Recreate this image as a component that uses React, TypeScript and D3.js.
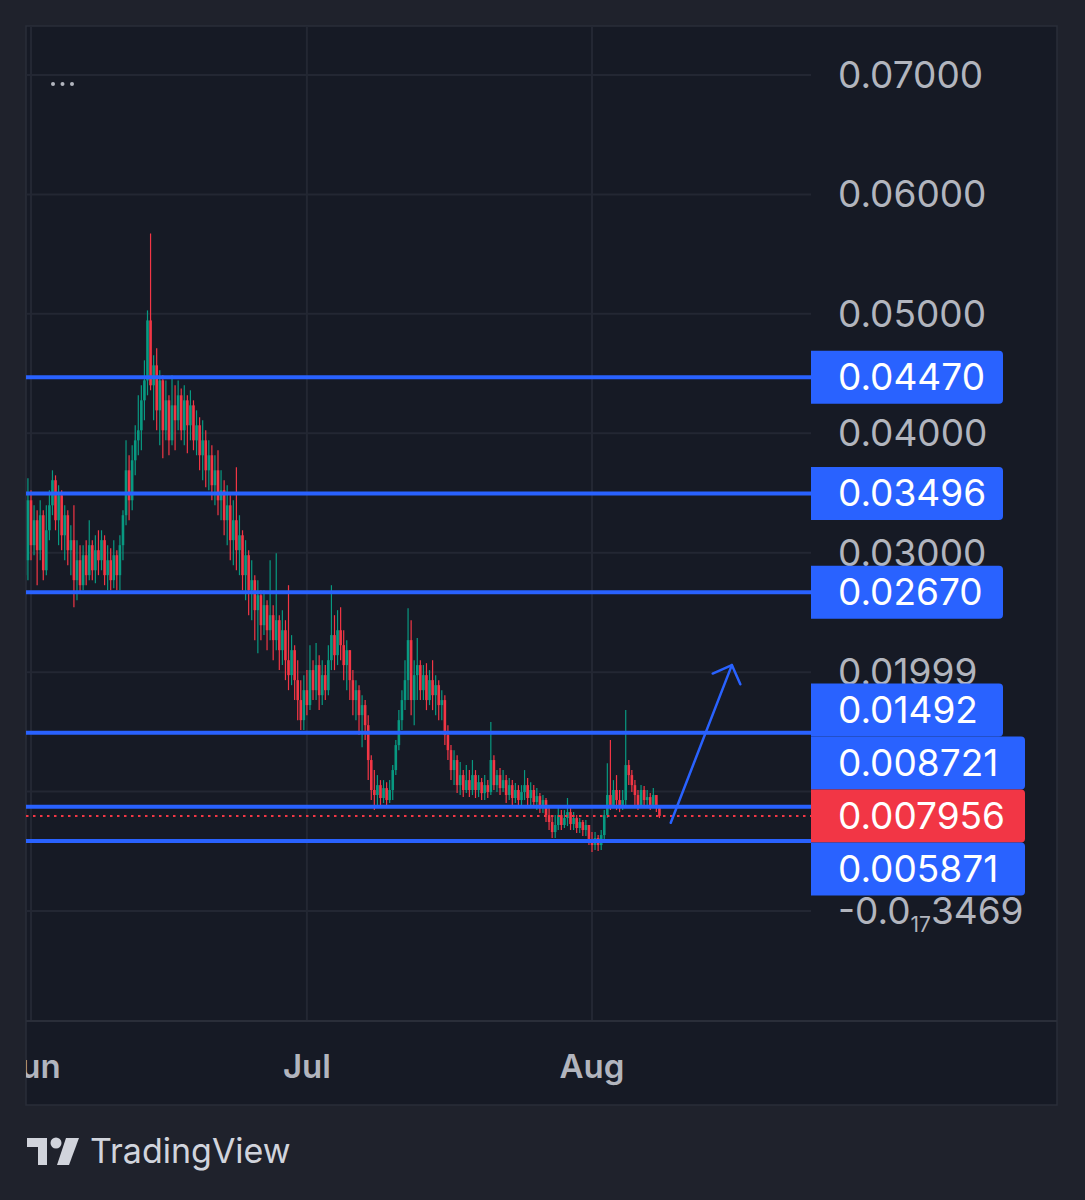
import React from "react";
import * as d3 from "d3";

// horizontal levels drawn on the chart
const levels = [0.0447, 0.03496, 0.0267, 0.01492, 0.008721, 0.005871];
const levelLabels = ["0.04470", "0.03496", "0.02670", "0.01492", "0.008721", "0.005871"];
const lastPrice = 0.007956;
const lastLabel = "0.007956";

// price axis
const priceTicks = [0, 0.01, 0.02, 0.03, 0.04, 0.05, 0.06, 0.07];
const priceTickLabels = ["-0.0{17}3469", "0.01000", "0.01999", "0.03000", "0.04000", "0.05000", "0.06000", "0.07000"];

// time axis
const monthTicks = [new Date(2024, 5, 1), new Date(2024, 6, 1), new Date(2024, 7, 1)];
const monthLabels = ["Jun", "Jul", "Aug"];

// 8h candles, prices in 1e-5
const candleStart = new Date(2024, 4, 31, 8);
const candleHours = 8;
const firstOpenE5 = 2812;
const closeE5 = [
  2937, 3439, 3063, 3272, 3021, 3314, 2853, 3188, 3397, 3607,
  3272, 3481, 3146, 3314, 3021, 3105, 2770, 2937, 2728, 2979,
  2812, 3063, 2853, 3021, 2937, 3105, 2812, 2937, 2770, 2979,
  2812, 3063, 3314, 3690, 3439, 3774, 3941, 4025, 4276, 4443,
  4945, 4402, 4569, 4192, 4443, 4025, 4276, 3941, 4234, 4109,
  4318, 4025, 4276, 4067, 4234, 3941, 4067, 3816, 3941, 3690,
  3816, 3565, 3690, 3439, 3523, 3272, 3397, 3105, 3272, 3021,
  3146, 2812, 2979, 2686, 2770, 2519, 2644, 2393, 2561, 2351,
  2477, 2268, 2435, 2184, 2351, 2100, 1975, 2184, 1933, 1766,
  1598, 1849, 1724, 2017, 1849, 2059, 1807, 1975, 1849, 2100,
  2310, 2142, 2351, 2226, 2059, 2184, 1933, 1766, 1849, 1640,
  1724, 1556, 1264, 1013, 971, 1054, 946, 1029, 929, 1013,
  1180, 1389, 1598, 1766, 1933, 2268, 1766, 1975, 2059, 1849,
  1975, 1766, 1933, 1807, 1891, 1724, 1766, 1473, 1347, 1180,
  1264, 1054, 1138, 1013, 1096, 1013, 1138, 1013, 1079, 987,
  1054, 996, 1264, 1054, 1138, 1029, 1096, 971, 1054, 946,
  1013, 929, 996, 1054, 946, 1013, 912, 962, 862, 929,
  803, 745, 661, 720, 803, 720, 778, 828, 728, 778,
  695, 745, 678, 720, 594, 552, 611, 552, 636, 803,
  971, 887, 1013, 929, 862, 929, 1222, 1138, 1054, 971,
  887, 1013, 929, 954, 887, 971, 862, 796,
];
const highE5 = [
  3105, 3623, 3523, 3397, 3356, 3439, 3356, 3397, 3523, 3690,
  3648, 3565, 3523, 3397, 3356, 3230, 3397, 3105, 3063, 3063,
  3105, 3272, 3105, 3146, 3188, 3188, 3146, 3063, 3038, 3105,
  3021, 3146, 3356, 3941, 3816, 3899, 4067, 4318, 4402, 4611,
  5029, 5673, 4653, 4711, 4527, 4485, 4443, 4318, 4485, 4402,
  4443, 4376, 4402, 4318, 4360, 4276, 4192, 4134, 4109, 4025,
  3941, 3899, 3816, 3858, 3690, 3607, 3565, 3481, 3439, 3715,
  3314, 3188, 3105, 3021, 2937, 2812, 2770, 2686, 2686, 2602,
  2937, 2561, 2996, 2477, 2519, 2435, 2728, 2310, 2226, 2100,
  1933, 1975, 2017, 2226, 2100, 2243, 2142, 2100, 2059, 2226,
  2728, 2477, 2519, 2544, 2351, 2268, 2184, 2017, 1933, 1891,
  1807, 1766, 1640, 1305, 1180, 1138, 1096, 1096, 1079, 1096,
  1222, 1431, 1682, 1849, 2100, 2535, 2435, 2100, 2285, 2100,
  2059, 2075, 2017, 2100, 1975, 1933, 1849, 1807, 1556, 1389,
  1347, 1305, 1247, 1180, 1222, 1180, 1264, 1180, 1138, 1113,
  1138, 1096, 1582, 1305, 1180, 1197, 1180, 1138, 1113, 1096,
  1071, 1054, 1054, 1180, 1113, 1079, 1054, 1029, 987, 971,
  946, 862, 803, 803, 862, 845, 845, 946, 879, 828,
  803, 778, 761, 761, 720, 661, 661, 636, 678, 845,
  1238, 1431, 1096, 1138, 1013, 1013, 1682, 1264, 1180, 1096,
  1013, 1054, 1046, 1013, 987, 1029, 971, 887,
];
const lowE5 = [
  2728, 2770, 2937, 2979, 2728, 2937, 2770, 2812, 3105, 3314,
  3188, 3063, 3021, 2937, 2895, 2812, 2544, 2602, 2669, 2686,
  2728, 2770, 2770, 2745, 2812, 2853, 2728, 2686, 2686, 2703,
  2686, 2686, 2937, 3230, 3272, 3356, 3648, 3816, 3858, 4109,
  4318, 4360, 4109, 4025, 3899, 3791, 3941, 3816, 3899, 3858,
  4025, 3941, 3899, 3833, 3941, 3858, 3816, 3690, 3607, 3548,
  3523, 3439, 3397, 3314, 3272, 3146, 3063, 2937, 2895, 2853,
  2812, 2686, 2602, 2477, 2435, 2268, 2159, 2268, 2310, 2184,
  2268, 2100, 2184, 2017, 2059, 1933, 1849, 1891, 1766, 1598,
  1515, 1515, 1640, 1682, 1766, 1766, 1682, 1724, 1766, 1807,
  2017, 2017, 2059, 2100, 1933, 1849, 1766, 1640, 1598, 1473,
  1372, 1431, 1096, 929, 845, 887, 887, 904, 879, 904,
  929, 1138, 1347, 1515, 1682, 1766, 1640, 1556, 1766, 1766,
  1766, 1682, 1724, 1682, 1640, 1598, 1598, 1389, 1264, 1096,
  1054, 987, 971, 954, 987, 954, 971, 946, 954, 929,
  929, 946, 971, 1013, 996, 971, 996, 904, 929, 887,
  904, 879, 887, 929, 887, 887, 862, 845, 820, 820,
  745, 678, 611, 611, 678, 678, 695, 711, 678, 678,
  653, 653, 628, 628, 552, 494, 510, 502, 510, 594,
  778, 845, 862, 845, 828, 845, 887, 1054, 996, 887,
  845, 862, 879, 862, 845, 862, 828, 778,
];

// drawn arrow (time, price)
const arrowFrom = { t: new Date(2024, 7, 9, 13, 30), v: 0.00739 };
const arrowTo = { t: new Date(2024, 7, 16, 5), v: 0.02059 };

const W = 1085;
const H = 1200;
const panelL = 26, panelT = 26, panelR = 1057, panelB = 1105;
const plotR = 811, plotB = 1021;
const bg = "#1f222c";
const panelBg = "#161a25";
const gridColor = "#232733";
const textColor = "#b2b5be";
const blue = "#2962ff";
const red = "#f23645";
const up = "#089981";
const font = "Inter, Roboto, 'Noto Sans', sans-serif";

const x = d3.scaleTime().domain([monthTicks[0], monthTicks[2]]).range([31, 592]);
const y = d3.scaleLinear().domain([0, 0.07]).range([911, 75]);

const candles = closeE5.map((c, i) => {
  const o = (i === 0 ? firstOpenE5 : closeE5[i - 1]) * 1e-5;
  const cl = c * 1e-5;
  return {
    t: d3.timeHour.offset(candleStart, i * candleHours),
    o,
    c: cl,
    h: Math.max(highE5[i] * 1e-5, o, cl),
    l: Math.min(lowE5[i] * 1e-5, o, cl),
  };
});

function renderTickLabel(label: string, ty: number, key: number) {
  const m = label.match(/^(.*)\{(\d+)\}(.*)$/);
  if (!m) {
    return (
      <text key={key} x={838} y={ty + 13} fill={textColor} fontSize={37}>
        {label}
      </text>
    );
  }
  return (
    <text key={key} x={838} y={ty + 13} fill={textColor} fontSize={37}>
      {m[1]}
      <tspan fontSize={21} dy={8}>{m[2]}</tspan>
      <tspan dy={-8}>{m[3]}</tspan>
    </text>
  );
}

export default function App() {
  // stack the price labels around the current price so they do not overlap
  const boxH = 53;
  const items = levels
    .map((v, i) => ({ v, text: levelLabels[i], color: blue, last: false }))
    .concat([{ v: lastPrice, text: lastLabel, color: red, last: true }])
    .sort((a, b) => b.v - a.v)
    .map((d) => ({ ...d, pos: y(d.v) }));
  const anchor = items.findIndex((d) => d.last);
  for (let i = anchor - 1; i >= 0; i--) items[i].pos = Math.min(y(items[i].v), items[i + 1].pos - boxH);
  for (let i = anchor + 1; i < items.length; i++) items[i].pos = Math.max(y(items[i].v), items[i - 1].pos + boxH);

  // tick labels whose centre sits under a label box are hidden (as TradingView does)
  const hiddenTick = (ty: number) => items.some((d) => Math.abs(ty - d.pos) < boxH / 2);

  const bodyW = 2.6;
  const ax0 = x(arrowFrom.t), ay0 = y(arrowFrom.v);
  const ax1 = x(arrowTo.t), ay1 = y(arrowTo.v);
  const ang = Math.atan2(ay0 - ay1, ax0 - ax1);
  const headLen = 21;
  const head = [ang + Math.PI / 4, ang - Math.PI / 4].map((a) => [ax1 + headLen * Math.cos(a), ay1 + headLen * Math.sin(a)]);

  return (
    <svg
      width={W}
      height={H}
      style={{ position: "absolute", left: 0, top: 0, display: "block" }}
      fontFamily={font}
    >
      <defs>
        <clipPath id="plot">
          <rect x={panelL} y={panelT} width={plotR - panelL} height={plotB - panelT} />
        </clipPath>
        <clipPath id="timeaxis">
          <rect x={panelL} y={plotB} width={panelR - panelL} height={panelB - plotB} />
        </clipPath>
      </defs>
      <rect width={W} height={H} fill={bg} />
      <rect x={panelL} y={panelT} width={panelR - panelL} height={panelB - panelT} fill={panelBg} stroke="#2a2e39" strokeWidth={1.5} />

      {/* grid */}
      <g stroke={gridColor} strokeWidth={2}>
        {priceTicks.map((t, i) => (
          <line key={i} x1={panelL} x2={plotR} y1={y(t)} y2={y(t)} />
        ))}
        {monthTicks.map((t, i) => (
          <line key={"m" + i} x1={x(t)} x2={x(t)} y1={panelT} y2={plotB} />
        ))}
      </g>
      <line x1={panelL} x2={panelR} y1={plotB} y2={plotB} stroke="#2a2e39" strokeWidth={2} />

      {/* dots menu */}
      <g fill={textColor}>
        {[0, 1, 2].map((i) => (
          <circle key={i} cx={53 + i * 9.5} cy={84} r={2} />
        ))}
      </g>

      <g clipPath="url(#plot)">
        {/* candles */}
        {candles.map((d, i) => {
          const cx = x(d.t);
          const col = d.c >= d.o ? up : red;
          const top = y(Math.max(d.o, d.c));
          const bot = y(Math.min(d.o, d.c));
          return (
            <g key={i}>
              <line x1={cx} x2={cx} y1={y(d.h)} y2={y(d.l)} stroke={col} strokeWidth={1.2} />
              <rect x={cx - bodyW / 2} y={top} width={bodyW} height={Math.max(1, bot - top)} fill={col} />
            </g>
          );
        })}

        {/* levels */}
        {levels.map((v, i) => (
          <line key={i} x1={panelL} x2={plotR} y1={y(v)} y2={y(v)} stroke={blue} strokeWidth={4} />
        ))}
        <line x1={panelL} x2={plotR} y1={y(lastPrice)} y2={y(lastPrice)} stroke={red} strokeWidth={2} strokeDasharray="2.5 4.5" />

        {/* arrow */}
        <g stroke={blue} strokeWidth={2.5} strokeLinecap="round" fill="none">
          <line x1={ax0} y1={ay0} x2={ax1} y2={ay1} />
          {head.map((p, i) => (
            <line key={i} x1={ax1} y1={ay1} x2={p[0]} y2={p[1]} />
          ))}
        </g>
      </g>

      {/* price axis */}
      {priceTicks.map((t, i) => (hiddenTick(y(t)) ? null : renderTickLabel(priceTickLabels[i], y(t), i)))}

      {items.map((d, i) => {
        const w = d.text.length * 22 + 38;
        const x0 = plotR, y0 = d.pos - boxH / 2, r = 4;
        const path = `M${x0},${y0}H${x0 + w - r}Q${x0 + w},${y0} ${x0 + w},${y0 + r}V${y0 + boxH - r}Q${x0 + w},${y0 + boxH} ${x0 + w - r},${y0 + boxH}H${x0}Z`;
        return (
          <g key={"b" + i}>
            <path d={path} fill={d.color} />
            <text x={838} y={d.pos + 13} fill="#ffffff" fontSize={37}>
              {d.text}
            </text>
          </g>
        );
      })}

      {/* time axis */}
      <g clipPath="url(#timeaxis)">
        {monthTicks.map((t, i) => (
          <text key={i} x={x(t)} y={1078} textAnchor="middle" fill={textColor} fontSize={33} fontWeight={600}>
            {monthLabels[i]}
          </text>
        ))}
      </g>

      {/* TradingView watermark */}
      <g fill="#d1d4dc">
        <rect x={27} y={1138} width={20} height={9} />
        <rect x={38} y={1138} width={9} height={27} />
        <circle cx={56} cy={1143} r={5.5} />
        <polygon points="66,1138 79,1138 69,1165 57,1165" />
        <text x={90} y={1163} fontSize={34} fontWeight={400}>
          TradingView
        </text>
      </g>
    </svg>
  );
}
